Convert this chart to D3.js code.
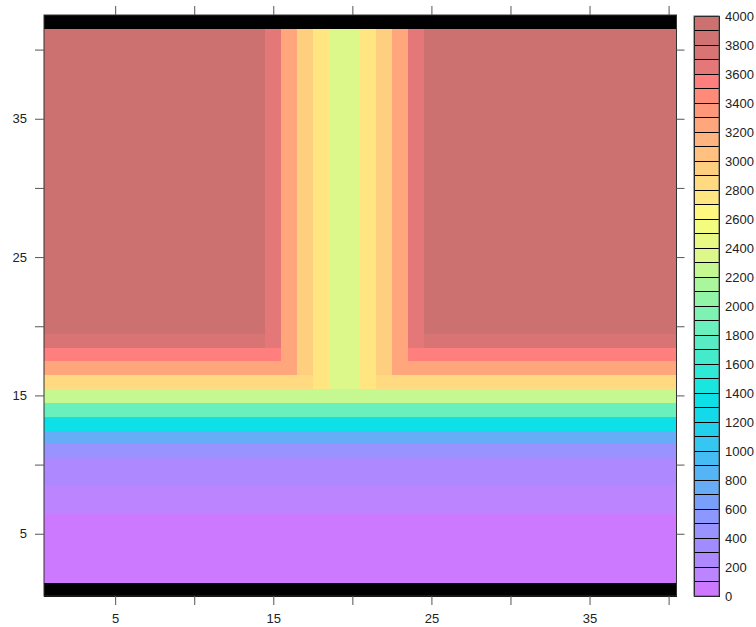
<!DOCTYPE html>
<html>
<head>
<meta charset="utf-8">
<script src="https://cdn.jsdelivr.net/npm/d3@7"></script>
<style>
  body { margin: 0; background: #ffffff; }
  svg text { font-family: "Liberation Sans", Arial, sans-serif; font-size: 13px; fill: #222222; }
  .axis line { stroke: #555555; }
</style>
</head>
<body>
<svg id="chart" width="756" height="627"></svg>
<script>
// field level along y (rows 1..42); null rows are the black boundary rows
var rowLevel = [
  null,
  50, 50, 50, 50, 50,
  150, 150, 250, 250,
  450, 750, 1350, 1850, 2250,
  2850, 3250, 3550, 3750,
  3950, 3950, 3950, 3950, 3950, 3950, 3950, 3950, 3950, 3950, 3950,
  3950, 3950, 3950, 3950, 3950, 3950, 3950, 3950, 3950, 3950, 3950,
  null
];

// field level along x (columns 1..40), the vertical channel in the middle
var colLevel = [
  3950, 3950, 3950, 3950, 3950, 3950, 3950, 3950, 3950, 3950, 3950, 3950, 3950, 3950,
  3650, 3250, 2950, 2750, 2350, 2350, 2750, 2950, 3250, 3650,
  3950, 3950, 3950, 3950, 3950, 3950, 3950, 3950, 3950, 3950, 3950, 3950, 3950, 3950, 3950, 3950
];

var axisTicks = [5, 10, 15, 20, 25, 30, 35, 40];
var axisLabels = [5, 15, 25, 35];
var keyLabels = [0, 200, 400, 600, 800, 1000, 1200, 1400, 1600, 1800, 2000,
  2200, 2400, 2600, 2800, 3000, 3200, 3400, 3600, 3800, 4000];

// 40 bands of 100, low to high
var palette = [
  '#cc79ff', '#bd84ff', '#ae88ff', '#a08cff', '#9993ff', '#8c98ff', '#78a0fa', '#66acf6',
  '#55b4f5', '#45bcf4', '#35c6f2', '#22d0ee', '#12daea', '#0ee0e8', '#1ae6e0', '#30e8d6',
  '#44eacc', '#58ecc4', '#6af0bc', '#7ef2b2', '#92f4a6', '#aaf69c', '#c6f892', '#dcf88a',
  '#e8fa84', '#f4fc80', '#fff880', '#ffe680', '#ffda80', '#ffcf80', '#ffc080', '#ffb37e',
  '#ffa67d', '#ff987a', '#ff8a78', '#ff7f7f', '#e47777', '#d87474', '#d17272', '#cc7070'
];

var svg = d3.select('#chart');

var panel = { left: 44, right: 676.5, top: 15, bottom: 596 };

var x = d3.scaleLinear().domain([0.5, 40.5]).range([panel.left, panel.right]);
var y = d3.scaleLinear().domain([0.5, 42.5]).range([panel.bottom, panel.top]);
var color = d3.scaleQuantize().domain([0, 4000]).range(palette);

var cells = [];
rowLevel.forEach(function (r, i) {
  colLevel.forEach(function (c, j) {
    cells.push({ col: j + 1, row: i + 1, value: r === null ? null : Math.min(r, c) });
  });
});

svg.append('g')
  .attr('shape-rendering', 'crispEdges')
  .selectAll('rect')
  .data(cells)
  .enter().append('rect')
  .attr('x', function (d) { return x(d.col - 0.5); })
  .attr('y', function (d) { return y(d.row + 0.5); })
  .attr('width', function (d) { return x(d.col + 0.5) - x(d.col - 0.5) + 0.5; })
  .attr('height', function (d) { return y(d.row - 0.5) - y(d.row + 0.5) + 0.5; })
  .attr('fill', function (d) { return d.value === null ? '#000000' : color(d.value); });

svg.append('rect')
  .attr('x', panel.left)
  .attr('y', panel.top)
  .attr('width', panel.right - panel.left)
  .attr('height', panel.bottom - panel.top)
  .attr('fill', 'none')
  .attr('stroke', '#333333');

function label(d) { return axisLabels.indexOf(d) >= 0 ? d : ''; }

svg.append('g')
  .attr('class', 'axis')
  .attr('transform', 'translate(0,' + panel.bottom + ')')
  .call(d3.axisBottom(x).tickValues(axisTicks).tickFormat(label).tickSize(9).tickPadding(9))
  .call(function (g) { g.select('.domain').remove(); });

svg.append('g')
  .attr('class', 'axis')
  .attr('transform', 'translate(0,' + panel.top + ')')
  .call(d3.axisTop(x).tickValues(axisTicks).tickFormat('').tickSize(9))
  .call(function (g) { g.select('.domain').remove(); });

svg.append('g')
  .attr('class', 'axis')
  .attr('transform', 'translate(' + panel.left + ',0)')
  .call(d3.axisLeft(y).tickValues(axisTicks).tickFormat(label).tickSize(9).tickPadding(8))
  .call(function (g) { g.select('.domain').remove(); });

svg.append('g')
  .attr('class', 'axis')
  .attr('transform', 'translate(' + panel.right + ',0)')
  .call(d3.axisRight(y).tickValues(axisTicks).tickFormat('').tickSize(8))
  .call(function (g) { g.select('.domain').remove(); });

svg.selectAll('.axis text')
  .attr('font-family', '"Liberation Sans", Arial, sans-serif')
  .attr('font-size', 13)
  .attr('fill', '#222222');

// colour key
var key = { left: 694, right: 719 };
var ky = d3.scaleLinear().domain([0, 4000]).range([596, 16]);

svg.append('g')
  .attr('shape-rendering', 'crispEdges')
  .selectAll('rect')
  .data(palette)
  .enter().append('rect')
  .attr('x', key.left)
  .attr('y', function (d, i) { return ky((i + 1) * 100); })
  .attr('width', key.right - key.left)
  .attr('height', function (d, i) { return ky(i * 100) - ky((i + 1) * 100); })
  .attr('fill', function (d) { return d; })
  .attr('stroke', '#000000')
  .attr('stroke-width', 1);

svg.append('rect')
  .attr('x', key.left)
  .attr('y', ky(4000))
  .attr('width', key.right - key.left)
  .attr('height', ky(0) - ky(4000))
  .attr('fill', 'none')
  .attr('stroke', '#555555');

svg.append('g')
  .selectAll('text')
  .data(keyLabels)
  .enter().append('text')
  .attr('x', 725)
  .attr('y', function (d) { return ky(d); })
  .attr('dy', '0.35em')
  .text(function (d) { return d; });
</script>
</body>
</html>
